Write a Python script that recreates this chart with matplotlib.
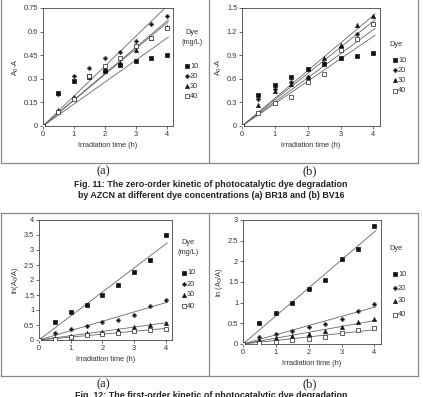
import numpy as np
import matplotlib
matplotlib.use("Agg")
import matplotlib.pyplot as plt
from matplotlib.lines import Line2D

plt.rcParams['font.family'] = ['Liberation Sans', 'DejaVu Sans']

t = [0, 0.5, 1, 1.5, 2, 2.5, 3, 3.5, 4]
dyes = ["10", "20", "30", "40"]

# Fig 11 (a) BR18, zero order A0-A
z_a = {
    "10": [0, 0.21, 0.285, 0.32, 0.35, 0.39, 0.415, 0.435, 0.45],
    "20": [0, 0.205, 0.315, 0.37, 0.43, 0.47, 0.54, 0.65, 0.70],
    "30": [0, 0.10, 0.185, 0.31, 0.36, 0.40, 0.48, 0.56, 0.63],
    "40": [0, 0.09, 0.17, 0.32, 0.38, 0.43, 0.51, 0.56, 0.62],
}
# Fig 11 (b) BV16
z_b = {
    "10": [0, 0.40, 0.525, 0.62, 0.725, 0.79, 0.87, 0.89, 0.93],
    "20": [0, 0.34, 0.47, 0.56, 0.62, 0.80, 1.00, 1.17, 1.30],
    "30": [0, 0.27, 0.45, 0.53, 0.62, 0.86, 1.03, 1.28, 1.40],
    "40": [0, 0.165, 0.29, 0.37, 0.56, 0.66, 0.96, 1.10, 1.30],
}
# Fig 12 (a) first order ln(A0/A)
f_a = {
    "10": [0, 0.60, 0.93, 1.18, 1.49, 1.82, 2.27, 2.68, 3.51],
    "20": [0, 0.22, 0.38, 0.48, 0.60, 0.68, 0.82, 1.15, 1.32],
    "30": [0, 0.06, 0.15, 0.24, 0.28, 0.35, 0.42, 0.50, 0.58],
    "40": [0, 0.05, 0.10, 0.17, 0.20, 0.25, 0.30, 0.33, 0.37],
}
# Fig 12 (b)
f_b = {
    "10": [0, 0.52, 0.74, 0.98, 1.33, 1.56, 2.06, 2.29, 2.85],
    "20": [0, 0.17, 0.25, 0.32, 0.42, 0.48, 0.61, 0.80, 0.97],
    "30": [0, 0.09, 0.15, 0.20, 0.23, 0.32, 0.40, 0.53, 0.60],
    "40": [0, 0.03, 0.06, 0.10, 0.13, 0.17, 0.27, 0.33, 0.38],
}

W, H = 423, 397
fig = plt.figure(figsize=(W / 100, H / 100), dpi=100)


def fx(x):
    return x / W


def fy(y):
    return 1 - y / H


def px_axes(x0, y0, x1, y1):
    return fig.add_axes([x0 / W, 1 - y1 / H, (x1 - x0) / W, (y1 - y0) / H])


def fline(x0, y0, x1, y1):
    fig.add_artist(Line2D([fx(x0), fx(x1)], [fy(y0), fy(y1)],
                          transform=fig.transFigure, color='#8a8a8a', lw=0.9))


mstyle = {
    "10": dict(marker='s', ms=3.4, mfc='#111111', mec='#111111', mew=0.5),
    "20": dict(marker='P', ms=3.0, mfc='#111111', mec='#111111', mew=0.2),
    "30": dict(marker='^', ms=3.2, mfc='#111111', mec='#111111', mew=0.3),
    "40": dict(marker='s', ms=3.2, mfc='white', mec='#222222', mew=0.5),
}

FS = 5.3
TC = '#333333'


def panel(rect, data, yticks, ylabels, ylabel, title_lines, title_x, entry_mx, entry_ys):
    ax = px_axes(*rect)
    tt = np.array(t)
    for d in dyes:
        y = np.array(data[d])
        k = np.sum(tt * y) / np.sum(tt * tt)
        ax.plot([0, 4.05], [0, 4.05 * k], color='#666666', lw=0.6, zorder=2)
        ax.plot(tt, y, ls='none', zorder=3, **mstyle[d])
    ax.set_xlim(0, 4.2)
    ax.set_ylim(0, yticks[-1])
    ax.set_xticks([0, 1, 2, 3, 4])
    ax.set_xticklabels(["0", "1", "2", "3", "4"])
    ax.set_yticks(yticks)
    ax.set_yticklabels(ylabels)
    ax.tick_params(labelsize=FS, length=2, width=0.5, pad=1.5, colors=TC)
    for s in ax.spines.values():
        s.set_linewidth(0.6)
        s.set_color('#444444')
    ax.set_xlabel("Irradiation time (h)", fontsize=FS, color=TC, labelpad=3)
    ax.set_ylabel(ylabel, fontsize=FS, color=TC, labelpad=2)
    # manual legend
    for (s, y) in title_lines:
        fig.text(fx(title_x), fy(y), s, fontsize=FS, color=TC, ha='center', va='center')
    for d, y in zip(dyes, entry_ys):
        fig.add_artist(Line2D([fx(entry_mx)], [fy(y)], transform=fig.transFigure,
                              ls='none', **mstyle[d]))
        fig.text(fx(entry_mx + 3), fy(y), d, fontsize=FS, color=TC, ha='left', va='center')
    return ax


panel((43, 8, 173, 126), z_a, [0, 0.15, 0.3, 0.45, 0.6, 0.75],
      ["0", "0.15", "0.3", "0.45", "0.6", "0.75"], r"A$_0$-A",
      [("Dye", 32), ("(mg/L)", 42)], 192, 187, [66, 76, 86, 96])
panel((242, 8, 380, 126), z_b, [0, 0.3, 0.6, 0.9, 1.2, 1.5],
      ["0", "0.3", "0.6", "0.9", "1.2", "1.5"], r"A$_0$-A",
      [("Dye", 45)], 396, 395, [60, 70, 80, 91])
panel((39, 220, 172, 340), f_a, [0, 0.5, 1, 1.5, 2, 2.5, 3, 3.5, 4],
      ["0", "0.5", "1", "1.5", "2", "2.5", "3", "3.5", "4"],
      r"ln(A$_0$/A)", [("Dye", 242), ("(mg/L)", 253)], 188, 184, [273, 284, 295, 306])
panel((243, 220, 381, 344), f_b, [0, 0.5, 1, 1.5, 2, 2.5, 3],
      ["0", "0.5", "1", "1.5", "2", "2.5", "3"],
      r"ln (A$_0$/A)", [("Dye", 249)], 396, 395, [274, 288, 301, 315])

# panel borders
fline(1, 0, 1, 163)
fline(209, 0, 209, 163)
fline(418, 0, 418, 163)
fline(1, 163, 418, 163)
fline(1, 213, 418, 213)
fline(1, 213, 1, 376)
fline(209, 213, 209, 376)
fline(418, 213, 418, 376)
fline(1, 376, 418, 376)

serif = ['Liberation Serif', 'DejaVu Serif']
for (x, y, s) in [(103, 171, "(a)"), (310, 171, "(b)"), (103, 384, "(a)"), (310, 384, "(b)")]:
    fig.text(fx(x), fy(y), s, family=serif, fontsize=9, ha='center', va='center',
             color='#222222')

cap = dict(fontsize=6.4, fontweight='bold', ha='center', va='center', color='#222222')
fig.text(fx(211), fy(185), "Fig. 11: The zero-order kinetic of photocatalytic dye degradation", **cap)
fig.text(fx(211), fy(195), "by AZCN at different dye concentrations (a) BR18 and (b) BV16", **cap)
fig.text(fx(211), fy(395), "Fig. 12: The first-order kinetic of photocatalytic dye degradation", **cap)

fig.savefig("out.png", dpi=100)
